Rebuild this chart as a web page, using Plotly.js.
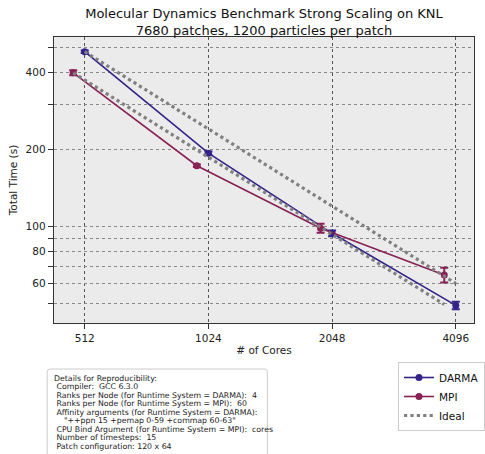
<!DOCTYPE html>
<html><head><meta charset="utf-8">
<script src="https://cdn.plot.ly/plotly-3.0.1.min.js"></script>
<style>html,body{margin:0;padding:0;background:#fff}</style>
</head><body><div id="chart" style="width:485px;height:454px"></div>
<script>
const darmaCores = [512, 1024, 2048, 4096];
const darmaTime = [481, 193.5, 94.2, 49.3];
const darmaErr = [5, 3, 2.5, 1.7];
const mpiCores = [480, 960, 1920, 3840];
const mpiTime = [398, 172.8, 98.6, 64.8];
const mpiErr = [9, 2, 4, 4.3];
const idealDarmaCores = [512, 4096];
const idealDarmaTime = [481, 60.1];
const idealMpiCores = [480, 3840];
const idealMpiTime = [398, 49.75];
const xTicks = [512, 1024, 2048, 4096];
const yTickVals = [50, 60, 70, 80, 90, 100, 200, 300, 400, 500];
const yTickText = ['', '60', '', '80', '', '100', '200', '', '400', ''];
const detailLines = [
  'Details for Reproducibility:',
  '\u00a0Compiler:\u00a0 GCC 6.3.0',
  '\u00a0Ranks per Node (for Runtime System = DARMA):\u00a0 4',
  '\u00a0Ranks per Node (for Runtime System = MPI):\u00a0 60',
  '\u00a0Affinity arguments (for Runtime System = DARMA):',
  '\u00a0\u00a0\u00a0\u00a0"++ppn 15 +pemap 0-59 +commap 60-63"',
  '\u00a0CPU Bind Argument (for Runtime System = MPI):\u00a0 cores',
  '\u00a0Number of timesteps:\u00a0 15',
  '\u00a0Patch configuration: 120 x 64'
];

const font = 'DejaVu Sans, sans-serif';
const traces = [
  {x: darmaCores, y: darmaTime, name: 'DARMA', mode: 'lines+markers',
   line: {color: '#332288', width: 1.6}, marker: {color: '#332288', size: 7},
   error_y: {type: 'data', array: darmaErr, visible: true, color: '#332288', thickness: 2, width: 4}},
  {x: mpiCores, y: mpiTime, name: 'MPI', mode: 'lines+markers',
   line: {color: '#882255', width: 1.6}, marker: {color: '#882255', size: 7},
   error_y: {type: 'data', array: mpiErr, visible: true, color: '#882255', thickness: 2, width: 4}},
  {x: idealDarmaCores, y: idealDarmaTime, name: 'Ideal', mode: 'lines',
   line: {color: '#808080', width: 3.2, dash: 'dot'}},
  {x: idealMpiCores, y: idealMpiTime, name: 'Ideal', mode: 'lines', showlegend: false,
   line: {color: '#808080', width: 3.2, dash: 'dot'}}
];

// pixel -> paper helpers (plot area: x 54..485, y 37..323)
const L = 54, R = 485, T = 37, B = 323;
const px = v => (v - L) / (R - L);
const py = v => (B - v) / (B - T);

const annotations = detailLines.map((t, i) => ({
  text: t, xref: 'paper', yref: 'paper', x: px(52), y: py(378 + 8.5 * i),
  xanchor: 'left', yanchor: 'middle', align: 'left', showarrow: false,
  font: {family: font, size: 7.8, color: '#222'}
}));

const r = 3, bx0 = 47, bx1 = 273, by0 = 369, by1 = 458;
const boxPath = `M ${bx0 + r} ${by0} L ${bx1 - r} ${by0} Q ${bx1} ${by0} ${bx1} ${by0 + r} ` +
  `L ${bx1} ${by1} L ${bx0} ${by1} L ${bx0} ${by0 + r} Q ${bx0} ${by0} ${bx0 + r} ${by0} Z`;

const layout = {
  width: 485, height: 454,
  margin: {l: 54, r: 0, t: 37, b: 131},
  paper_bgcolor: '#ffffff', plot_bgcolor: '#EBEBEB',
  font: {family: font, size: 10.5, color: '#222'},
  title: {text: 'Molecular Dynamics Benchmark Strong Scaling on KNL<br>7680 patches, 1200 particles per patch',
          font: {family: font, size: 13, color: '#111'}, xref: 'paper', x: 0.5, xanchor: 'center',
          yref: 'container', y: 0.961, yanchor: 'top'},
  xaxis: {type: 'log', range: [Math.log10(431), Math.log10(4536)],
          tickvals: xTicks, ticktext: xTicks.map(String),
          showgrid: true, gridcolor: '#555', griddash: 'dot', gridwidth: 1,
          ticks: 'outside', ticklen: 5, tickcolor: '#333',
          showline: true, linecolor: '#333', linewidth: 1.3, mirror: true, zeroline: false,
          title: {text: '# of Cores', font: {family: font, size: 10.5, color: '#222'}, standoff: 3}},
  yaxis: {type: 'log', range: [Math.log10(42.1), Math.log10(549)],
          tickvals: yTickVals, ticktext: yTickText,
          showgrid: true, gridcolor: '#888', griddash: 'dot', gridwidth: 1,
          ticks: 'outside', ticklen: 5, tickcolor: '#333',
          showline: true, linecolor: '#333', linewidth: 1.3, mirror: true, zeroline: false,
          title: {text: 'Total Time (s)', font: {family: font, size: 10.5, color: '#222'}, standoff: 6}},
  legend: {x: px(407), y: py(362), xanchor: 'left', yanchor: 'top', bgcolor: '#fff',
           bordercolor: '#ccc', borderwidth: 1, font: {family: font, size: 10.5, color: '#111'},
           tracegroupgap: 0},
  shapes: [{type: 'path', xref: 'paper', yref: 'paper', layer: 'below',
            path: boxPath.replace(/(-?\d+(?:\.\d+)?) (-?\d+(?:\.\d+)?)/g, (m, a, b) => `${px(+a)} ${py(+b)}`),
            line: {color: '#ccc', width: 1}, fillcolor: '#fff'}],
  annotations: annotations
};
Plotly.newPlot('chart', traces, layout, {displayModeBar: false, staticPlot: true});
</script></body></html>
